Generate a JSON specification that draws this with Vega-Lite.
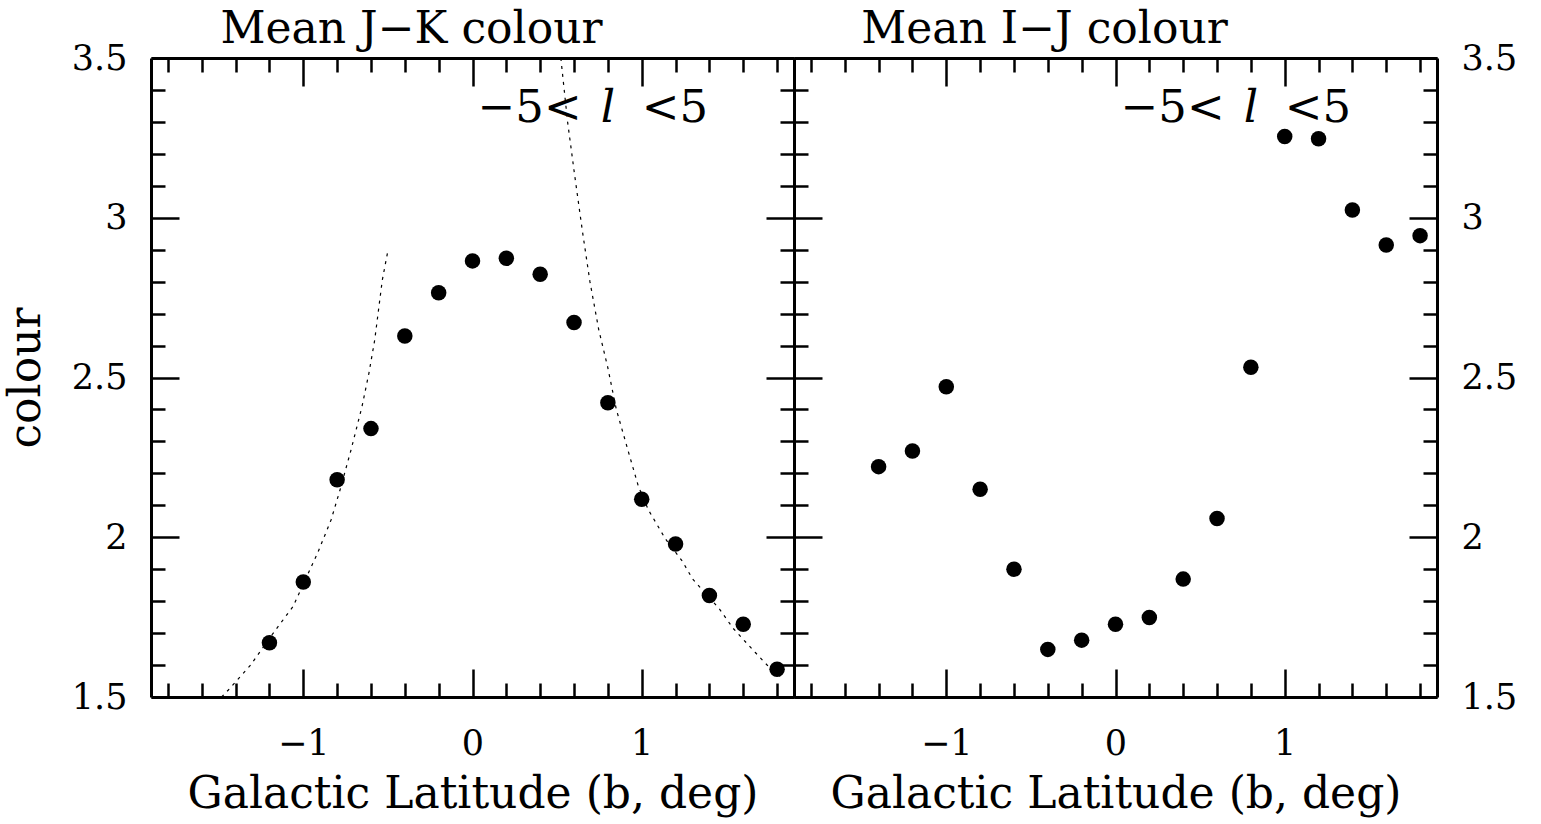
{
  "$schema": "https://vega.github.io/schema/vega-lite/v6.json",
  "padding": {"left": 4, "top": 7, "right": 0, "bottom": 20},
  "spacing": 0,
  "bounds": "flush",
  "background": "white",
  "config": {
    "view": {"stroke": null},
    "axis": {
      "grid": false,
      "domainColor": "black",
      "tickColor": "black",
      "labelColor": "black",
      "titleColor": "black",
      "labelFont": "DejaVu Serif",
      "titleFont": "DejaVu Serif",
      "labelFontSize": 35,
      "titleFontSize": 44,
      "titleFontWeight": "normal",
      "domainWidth": 3,
      "tickWidth": 2.5,
      "labelFlush": false,
      "labelOverlap": false
    }
  },
  "datasets": {
    "jk": [
      {"b": -1.2, "colour": 1.67}, {"b": -1.0, "colour": 1.86}, {"b": -0.8, "colour": 2.18},
      {"b": -0.6, "colour": 2.34}, {"b": -0.4, "colour": 2.63}, {"b": -0.2, "colour": 2.765},
      {"b": 0.0, "colour": 2.865}, {"b": 0.2, "colour": 2.873}, {"b": 0.4, "colour": 2.823},
      {"b": 0.6, "colour": 2.672}, {"b": 0.8, "colour": 2.421}, {"b": 1.0, "colour": 2.119},
      {"b": 1.2, "colour": 1.979}, {"b": 1.4, "colour": 1.818}, {"b": 1.6, "colour": 1.728},
      {"b": 1.8, "colour": 1.587}
    ],
    "ij": [
      {"b": -1.4, "colour": 2.221}, {"b": -1.2, "colour": 2.27}, {"b": -1.0, "colour": 2.471},
      {"b": -0.8, "colour": 2.15}, {"b": -0.6, "colour": 1.9}, {"b": -0.4, "colour": 1.649},
      {"b": -0.2, "colour": 1.678}, {"b": 0.0, "colour": 1.728}, {"b": 0.2, "colour": 1.749},
      {"b": 0.4, "colour": 1.869}, {"b": 0.6, "colour": 2.059}, {"b": 0.8, "colour": 2.532},
      {"b": 1.0, "colour": 3.254}, {"b": 1.2, "colour": 3.247}, {"b": 1.4, "colour": 3.024},
      {"b": 1.6, "colour": 2.915}, {"b": 1.8, "colour": 2.944}
    ],
    "fit": [
      {"seg": "south", "b": -1.483, "colour": 1.5}, {"seg": "south", "b": -1.443, "colour": 1.522},
      {"seg": "south", "b": -1.311, "colour": 1.6}, {"seg": "south", "b": -1.193, "colour": 1.689},
      {"seg": "south", "b": -1.061, "colour": 1.783}, {"seg": "south", "b": -0.915, "colour": 1.951},
      {"seg": "south", "b": -0.836, "colour": 2.054}, {"seg": "south", "b": -0.783, "colour": 2.148},
      {"seg": "south", "b": -0.718, "colour": 2.273}, {"seg": "south", "b": -0.653, "colour": 2.409},
      {"seg": "south", "b": -0.612, "colour": 2.514}, {"seg": "south", "b": -0.578, "colour": 2.617},
      {"seg": "south", "b": -0.533, "colour": 2.805}, {"seg": "south", "b": -0.501, "colour": 2.894},
      {"seg": "north", "b": 0.522, "colour": 3.5}, {"seg": "north", "b": 0.562, "colour": 3.3},
      {"seg": "north", "b": 0.602, "colour": 3.14}, {"seg": "north", "b": 0.649, "colour": 2.96},
      {"seg": "north", "b": 0.694, "colour": 2.8}, {"seg": "north", "b": 0.746, "colour": 2.65},
      {"seg": "north", "b": 0.8, "colour": 2.53}, {"seg": "north", "b": 0.85, "colour": 2.4},
      {"seg": "north", "b": 0.92, "colour": 2.27}, {"seg": "north", "b": 0.98, "colour": 2.16},
      {"seg": "north", "b": 1.04, "colour": 2.085}, {"seg": "north", "b": 1.14, "colour": 1.995},
      {"seg": "north", "b": 1.24, "colour": 1.925}, {"seg": "north", "b": 1.3, "colour": 1.87},
      {"seg": "north", "b": 1.46, "colour": 1.775}, {"seg": "north", "b": 1.54, "colour": 1.715},
      {"seg": "north", "b": 1.67, "colour": 1.64}, {"seg": "north", "b": 1.75, "colour": 1.595},
      {"seg": "north", "b": 1.83, "colour": 1.56}
    ],
    "ann": [
      {"b": 0.03, "colour": 3.3, "text": "−5<"},
      {"b": 1.0, "colour": 3.3, "text": "<5"}
    ],
    "annl": [
      {"b": 0.8, "colour": 3.3, "text": "l"}
    ]
  },
  "hconcat": [
    {
      "width": 643,
      "height": 639,
      "resolve": {"axis": {"x": "independent", "y": "independent"}},
      "layer": [
        {
          "data": {"name": "jk"},
          "mark": {"type": "circle", "size": 240, "color": "black", "opacity": 1},
          "encoding": {
            "x": {"field": "b", "type": "quantitative", "scale": {"domain": [-1.9, 1.9], "nice": false, "zero": false},
                  "axis": {"orient": "bottom", "values": [-1, 0, 1], "tickSize": -28, "labels": false, "domain": true, "title": null}},
            "y": {"field": "colour", "type": "quantitative", "scale": {"domain": [1.5, 3.5], "nice": false, "zero": false},
                  "axis": {"orient": "left", "values": [1.5, 2, 2.5, 3, 3.5], "tickSize": -28, "labels": false, "domain": true, "title": null}}
          }
        },
        {
          "data": {"name": "fit"},
          "mark": {"type": "line", "color": "black", "strokeWidth": 1.2, "strokeDash": [3, 5]},
          "encoding": {
            "x": {"field": "b", "type": "quantitative",
                  "axis": {"orient": "bottom", "values": [-1.8, -1.6, -1.4, -1.2, -0.8, -0.6, -0.4, -0.2, 0.2, 0.4, 0.6, 0.8, 1.2, 1.4, 1.6, 1.8], "tickSize": -14, "labels": false, "domain": false, "title": null}},
            "y": {"field": "colour", "type": "quantitative",
                  "axis": {"orient": "left", "values": [1.6, 1.7, 1.8, 1.9, 2.1, 2.2, 2.3, 2.4, 2.6, 2.7, 2.8, 2.9, 3.1, 3.2, 3.3, 3.4], "tickSize": -14, "labels": false, "domain": false, "title": null}},
            "detail": {"field": "seg", "type": "nominal"}
          }
        },
        {
          "data": {"name": "jk"},
          "mark": {"type": "circle", "size": 10, "opacity": 0},
          "encoding": {
            "x": {"field": "b", "type": "quantitative",
                  "axis": {"orient": "top", "values": [-1, 0, 1], "tickSize": -28, "labels": false, "domain": true,
                           "title": "Mean J−K colour", "titleX": 260, "titleY": -16, "titleAlign": "center", "titleBaseline": "alphabetic"}},
            "y": {"field": "colour", "type": "quantitative",
                  "axis": {"orient": "right", "values": [1.5, 2, 2.5, 3, 3.5], "tickSize": -28, "labels": false, "domain": true, "title": null}}
          }
        },
        {
          "data": {"name": "jk"},
          "mark": {"type": "circle", "size": 10, "opacity": 0},
          "encoding": {
            "x": {"field": "b", "type": "quantitative",
                  "axis": {"orient": "top", "values": [-1.8, -1.6, -1.4, -1.2, -0.8, -0.6, -0.4, -0.2, 0.2, 0.4, 0.6, 0.8, 1.2, 1.4, 1.6, 1.8], "tickSize": -14, "labels": false, "domain": false, "title": null}},
            "y": {"field": "colour", "type": "quantitative",
                  "axis": {"orient": "right", "values": [1.6, 1.7, 1.8, 1.9, 2.1, 2.2, 2.3, 2.4, 2.6, 2.7, 2.8, 2.9, 3.1, 3.2, 3.3, 3.4], "tickSize": -14, "labels": false, "domain": false, "title": null}}
          }
        },
        {
          "data": {"name": "ann"},
          "mark": {"type": "text", "font": "DejaVu Serif", "fontSize": 45, "align": "left", "baseline": "alphabetic", "color": "black"},
          "encoding": {
            "x": {"field": "b", "type": "quantitative",
                  "axis": {"orient": "bottom", "values": [-1, 0, 1], "ticks": false, "tickSize": 0, "domain": false, "labelPadding": 29, "format": "~g",
                           "title": "Galactic Latitude (b, deg)", "titleY": 110, "titleBaseline": "alphabetic", "titleAlign": "center", "titleX": 321.5}},
            "y": {"field": "colour", "type": "quantitative",
                  "axis": {"orient": "left", "values": [1.5, 2, 2.5, 3, 3.5], "ticks": false, "tickSize": 0, "domain": false, "labelPadding": 24, "format": "~g",
                           "title": "colour", "titleX": -112, "titleY": 319.5, "titleAngle": 270, "titleAlign": "center", "titleBaseline": "alphabetic"}},
            "text": {"field": "text"}
          }
        },
        {
          "data": {"name": "annl"},
          "mark": {"type": "text", "font": "DejaVu Serif", "fontSize": 45, "fontStyle": "italic", "align": "center", "baseline": "alphabetic", "color": "black"},
          "encoding": {
            "x": {"field": "b", "type": "quantitative", "axis": null},
            "y": {"field": "colour", "type": "quantitative", "axis": null},
            "text": {"field": "text"}
          }
        }
      ]
    },
    {
      "width": 643,
      "height": 639,
      "resolve": {"axis": {"x": "independent", "y": "independent"}},
      "layer": [
        {
          "data": {"name": "ij"},
          "mark": {"type": "circle", "size": 240, "color": "black", "opacity": 1},
          "encoding": {
            "x": {"field": "b", "type": "quantitative", "scale": {"domain": [-1.9, 1.9], "nice": false, "zero": false},
                  "axis": {"orient": "bottom", "values": [-1, 0, 1], "tickSize": -28, "labels": false, "domain": true, "title": null}},
            "y": {"field": "colour", "type": "quantitative", "scale": {"domain": [1.5, 3.5], "nice": false, "zero": false},
                  "axis": {"orient": "left", "values": [1.5, 2, 2.5, 3, 3.5], "tickSize": -28, "labels": false, "domain": true, "title": null}}
          }
        },
        {
          "data": {"name": "ij"},
          "mark": {"type": "circle", "size": 10, "opacity": 0},
          "encoding": {
            "x": {"field": "b", "type": "quantitative",
                  "axis": {"orient": "bottom", "values": [-1.8, -1.6, -1.4, -1.2, -0.8, -0.6, -0.4, -0.2, 0.2, 0.4, 0.6, 0.8, 1.2, 1.4, 1.6, 1.8], "tickSize": -14, "labels": false, "domain": false, "title": null}},
            "y": {"field": "colour", "type": "quantitative",
                  "axis": {"orient": "left", "values": [1.6, 1.7, 1.8, 1.9, 2.1, 2.2, 2.3, 2.4, 2.6, 2.7, 2.8, 2.9, 3.1, 3.2, 3.3, 3.4], "tickSize": -14, "labels": false, "domain": false, "title": null}}
          }
        },
        {
          "data": {"name": "ij"},
          "mark": {"type": "circle", "size": 10, "opacity": 0},
          "encoding": {
            "x": {"field": "b", "type": "quantitative",
                  "axis": {"orient": "top", "values": [-1, 0, 1], "tickSize": -28, "labels": false, "domain": true,
                           "title": "Mean I−J colour", "titleX": 250, "titleY": -16, "titleAlign": "center", "titleBaseline": "alphabetic"}},
            "y": {"field": "colour", "type": "quantitative",
                  "axis": {"orient": "right", "values": [1.5, 2, 2.5, 3, 3.5], "tickSize": -28, "labels": false, "domain": true, "title": null}}
          }
        },
        {
          "data": {"name": "ij"},
          "mark": {"type": "circle", "size": 10, "opacity": 0},
          "encoding": {
            "x": {"field": "b", "type": "quantitative",
                  "axis": {"orient": "top", "values": [-1.8, -1.6, -1.4, -1.2, -0.8, -0.6, -0.4, -0.2, 0.2, 0.4, 0.6, 0.8, 1.2, 1.4, 1.6, 1.8], "tickSize": -14, "labels": false, "domain": false, "title": null}},
            "y": {"field": "colour", "type": "quantitative",
                  "axis": {"orient": "right", "values": [1.6, 1.7, 1.8, 1.9, 2.1, 2.2, 2.3, 2.4, 2.6, 2.7, 2.8, 2.9, 3.1, 3.2, 3.3, 3.4], "tickSize": -14, "labels": false, "domain": false, "title": null}}
          }
        },
        {
          "data": {"name": "ann"},
          "mark": {"type": "text", "font": "DejaVu Serif", "fontSize": 45, "align": "left", "baseline": "alphabetic", "color": "black"},
          "encoding": {
            "x": {"field": "b", "type": "quantitative",
                  "axis": {"orient": "bottom", "values": [-1, 0, 1], "ticks": false, "tickSize": 0, "domain": false, "labelPadding": 29, "format": "~g",
                           "title": "Galactic Latitude (b, deg)", "titleY": 110, "titleBaseline": "alphabetic", "titleAlign": "center", "titleX": 321.5}},
            "y": {"field": "colour", "type": "quantitative",
                  "axis": {"orient": "right", "values": [1.5, 2, 2.5, 3, 3.5], "ticks": false, "tickSize": 0, "domain": false, "labelPadding": 24, "format": "~g", "title": null}},
            "text": {"field": "text"}
          }
        },
        {
          "data": {"name": "annl"},
          "mark": {"type": "text", "font": "DejaVu Serif", "fontSize": 45, "fontStyle": "italic", "align": "center", "baseline": "alphabetic", "color": "black"},
          "encoding": {
            "x": {"field": "b", "type": "quantitative", "axis": null},
            "y": {"field": "colour", "type": "quantitative", "axis": null},
            "text": {"field": "text"}
          }
        }
      ]
    }
  ]
}
